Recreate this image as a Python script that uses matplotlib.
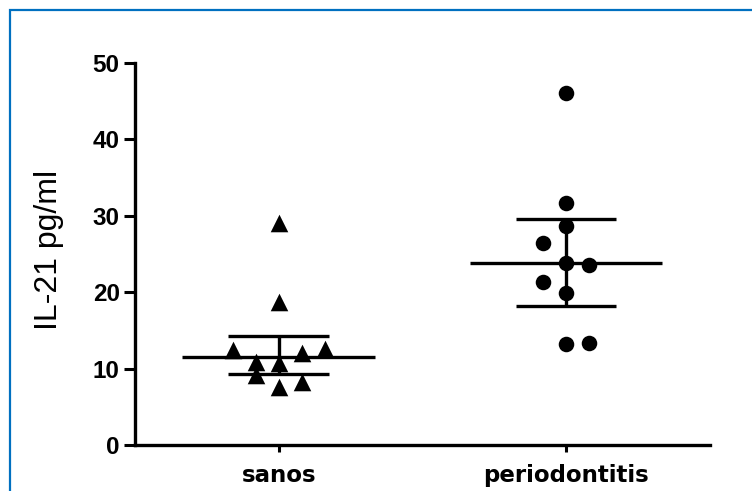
import numpy as np
import matplotlib.pyplot as plt
from matplotlib.patches import Rectangle

# values
groups = ['sanos', 'periodontitis']
sanos = [29.1, 18.7, 12.4, 10.9, 9.2, 10.7, 7.6, 8.2, 12.0, 12.6]
sanos_slot = [0, 0, -2, -1, -1, 0, 0, 1, 1, 2]
perio = [46.1, 31.7, 28.7, 26.4, 23.8, 23.6, 21.3, 19.9, 13.2, 13.4]
perio_slot = [0, 0, 0, -1, 0, 1, -1, 0, 0, 1]
center = [11.5, 23.8]
upper = [14.3, 29.6]
lower = [9.3, 18.2]
yticks = [0, 10, 20, 30, 40, 50]

fig = plt.figure(figsize=(7.52, 4.91), dpi=100)
ax = fig.add_axes([0.1795, 0.0937, 0.7645, 0.778])

step = 0.08
ax.scatter(0 + np.array(sanos_slot) * step, sanos, marker='^', s=160,
           color='black', zorder=3, linewidths=0)
ax.scatter(1 + np.array(perio_slot) * step, perio, marker='o', s=125,
           color='black', zorder=3, linewidths=0)

for i in range(len(groups)):
    ax.hlines(center[i], i - 0.335, i + 0.335, color='black', lw=2.4, zorder=4)
    ax.hlines([upper[i], lower[i]], i - 0.175, i + 0.175, color='black', lw=2.4, zorder=4)
    ax.vlines(i, lower[i], upper[i], color='black', lw=2.4, zorder=4)

ax.set_xlim(-0.5, 1.5)
ax.set_ylim(0, 50)
ax.set_xticks(range(len(groups)))
ax.set_xticklabels(groups, fontfamily='DejaVu Sans', fontweight='bold', fontsize=16.5)
ax.set_yticks(yticks)
ax.set_yticklabels([str(t) for t in yticks], fontfamily='Liberation Sans',
                   fontweight='bold', fontstretch='normal', fontsize=17.5)
ax.set_ylabel('IL-21 pg/ml', fontfamily='Liberation Sans', fontstretch='normal',
              fontsize=23)
ax.yaxis.set_label_coords(-0.123, 0.51)

ax.spines['right'].set_visible(False)
ax.spines['top'].set_visible(False)
ax.spines['left'].set_linewidth(2.4)
ax.spines['bottom'].set_linewidth(2.4)
ax.tick_params(axis='y', length=8, width=2.2, pad=3)
ax.tick_params(axis='x', length=5, width=2.2, pad=9)

# blue frame around the figure (cropped at right and bottom)
fig.patches.append(Rectangle((10 / 752, -0.1), 1.2, 1 - 10 / 491 + 0.1,
                             transform=fig.transFigure, fill=False,
                             edgecolor='#0070C0', lw=1.6))

fig.savefig('out.png', dpi=100)
